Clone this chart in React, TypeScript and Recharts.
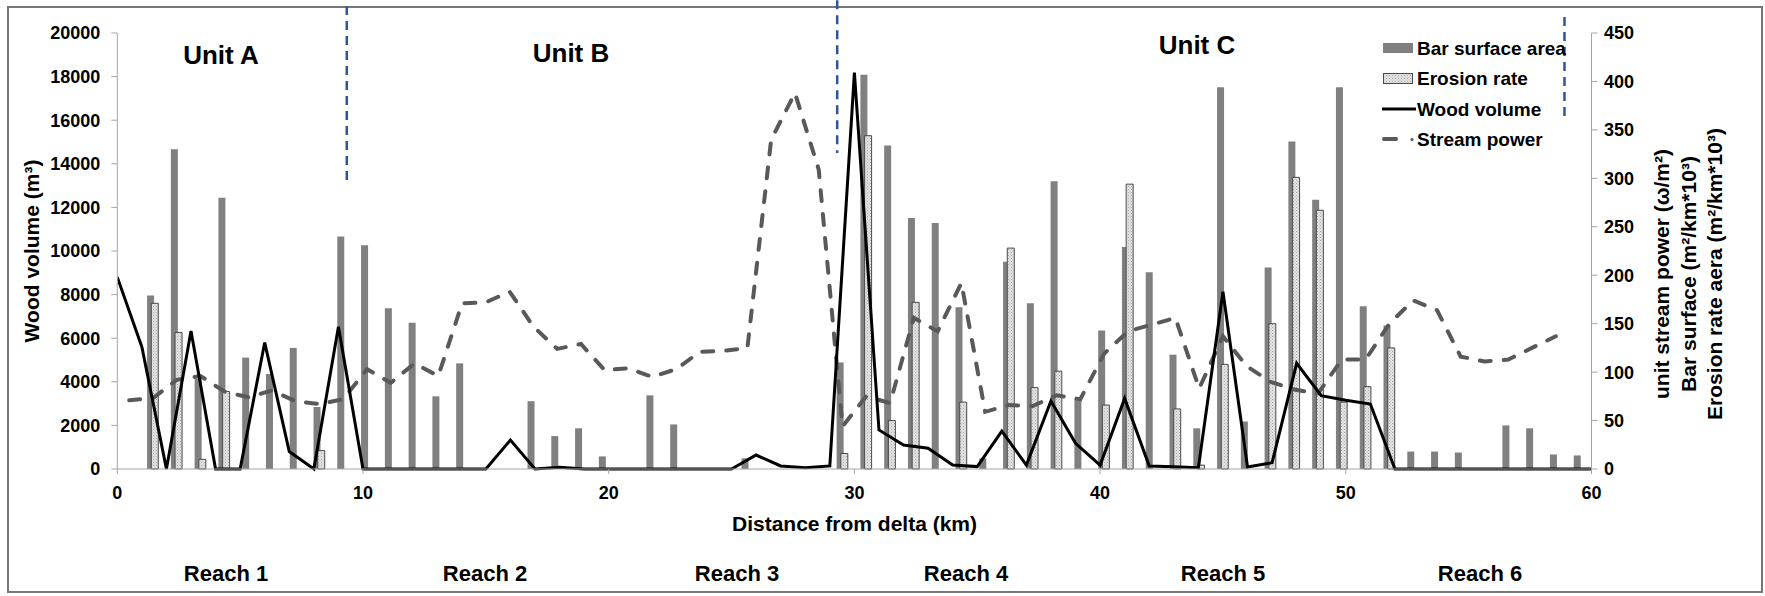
import React from "react";
import { ComposedChart, Bar, Line, XAxis, YAxis, ReferenceLine } from "recharts";

// bar segments along the river (Excel category axis, 62 slots over 0-60 km)
const segments = [
  1, 2, 3, 4, 5, 6, 7, 8, 9, 10, 11, 12, 13, 14, 15, 16, 17, 18, 19, 20, 21,
  22, 23, 24, 25, 26, 27, 28, 29, 30, 31, 32, 33, 34, 35, 36, 37, 38, 39, 40,
  41, 42, 43, 44, 45, 46, 47, 48, 49, 50, 51, 52, 53, 54, 55, 56, 57, 58, 59,
  60, 61, 62,
];

// bar surface (m2/km*10^3), right axis
const barSurface = [
  null, 179, 330, 93, 280, 115, 98, 125, 64, 240,
  231, 166, 151, 75, 109, null, null, 70, 34, 42,
  13, null, 76, 46, null, null, 11, null, null, null,
  110, 407, 334, 259, 254, 167, 11, 214, 171, 297,
  72, 143, 229, 203, 118, 42, 394, 49, 208, 338,
  278, 394, 168, 148, 18, 18, 17, null, 45, 42,
  15, 14,
];

// erosion rate (m2/km*10^3), right axis
const erosionRate = [
  null, 171, 141, 10, 80, null, null, null, 19, null,
  null, null, null, null, null, null, null, null, null, null,
  null, null, null, null, null, null, null, null, null, null,
  16, 344, 50, 172, null, 69, null, 228, 84, 101,
  null, 66, 294, null, 62, 4, 108, null, 150, 301,
  267, 69, 85, 125, null, null, null, null, null, null,
  null, null,
];

// unit stream power (w/m2), right axis
const streamPower = [
  71, 73, 92, 96, 80, 74, 81, 70, 67, 72,
  103, 89, 109, 96, 171, 172, 183, 147, 124, 129,
  102, 104, 95, 103, 121, 122, 125, 340, 388, 309,
  44, 75, 68, 156, 142, 192, 59, 66, 65, 76,
  72, 119, 142, 149, 156, 83, 137, 106, 90, 82,
  78, 113, 113, 150, 174, 164, 116, 111, 113, 125,
  137, null,
];

// wood volume (m3) every km, left axis
const distanceKm = [
  0, 1, 2, 3, 4, 5, 6, 7, 8, 9, 10, 11, 12, 13, 14, 15, 16, 17, 18, 19, 20,
  21, 22, 23, 24, 25, 26, 27, 28, 29, 30, 31, 32, 33, 34, 35, 36, 37, 38, 39,
  40, 41, 42, 43, 44, 45, 46, 47, 48, 49, 50, 51, 52, 53, 54, 55, 56, 57, 58,
  59, 60,
];
const woodVolume = [
  8800, 5600, 0, 6330, 0, 0, 5800, 800, 0, 6530,
  0, 0, 0, 0, 0, 0, 1330, 0, 80, 0,
  0, 0, 0, 0, 0, 0, 640, 140, 60, 140,
  18180, 1790, 1100, 950, 180, 110, 1740, 180, 3120, 1180,
  180, 3240, 140, 100, 60, 8130, 90, 290, 4850, 3360,
  3150, 2980, 0, 0, 0, 0, 0, 0, 0, 0,
  0,
];

const kmTicks = [0, 10, 20, 30, 40, 50, 60];
const woodTicks = [0, 2000, 4000, 6000, 8000, 10000, 12000, 14000, 16000, 18000, 20000];
const powerTicks = [0, 50, 100, 150, 200, 250, 300, 350, 400, 450];

// unit boundaries: km, top and bottom of the dashed marker (left-axis units)
const unitBreaks = [
  { km: 9.34, top: 21240, bottom: 13120 },
  { km: 29.3, top: 21500, bottom: 14500 },
  { km: 58.9, top: 20730, bottom: 15920 },
];

const units = [
  { label: "Unit A", x: 221, y: 55 },
  { label: "Unit B", x: 571, y: 53 },
  { label: "Unit C", x: 1197, y: 45 },
];
const reaches = [
  { label: "Reach 1", x: 226 },
  { label: "Reach 2", x: 485 },
  { label: "Reach 3", x: 737 },
  { label: "Reach 4", x: 966 },
  { label: "Reach 5", x: 1223 },
  { label: "Reach 6", x: 1480 },
];

const segData = segments.map((seg, i) => ({
  seg,
  bar: barSurface[i],
  erosion: erosionRate[i],
  power: streamPower[i],
}));
const woodData = distanceKm.map((km, i) => ({ km, wood: woodVolume[i] }));

const FONT = "'Liberation Sans', Arial, sans-serif";
const axisGray = "#a6a6a6";
const tickStyle = { fill: "#000", fontSize: 18, fontWeight: 700 };

export default function App() {
  return (
    <div style={{ position: "relative", width: 1765, height: 596, fontFamily: FONT, background: "#fff" }}>
      <style>{"body{margin:0}"}</style>
      <div
        style={{
          position: "absolute", left: 7, top: 6, width: 1756, height: 587,
          border: "2px solid #777", boxSizing: "border-box",
        }}
      />
      <ComposedChart
        width={1765}
        height={596}
        data={segData}
        barGap={-2.8}
        margin={{ top: 33, right: 113.5, bottom: 97, left: 37.3 }}
        style={{ position: "absolute", left: 0, top: 0, fontFamily: FONT }}
      >
        {/* hidden category axis for the bars and stream power, takes no room */}
        <XAxis xAxisId="cat" dataKey="seg" type="category" hide height={0} />
        <XAxis
          xAxisId="km"
          dataKey="km"
          type="number"
          domain={[0, 60]}
          ticks={kmTicks}
          allowDataOverflow
          height={30}
          tickSize={5}
          tickMargin={12}
          axisLine={{ stroke: axisGray }}
          tickLine={{ stroke: axisGray }}
          tick={tickStyle}
        />
        <YAxis
          yAxisId="left"
          domain={[0, 20000]}
          ticks={woodTicks}
          interval={0}
          width={80}
          tickSize={6}
          tickMargin={11}
          axisLine={{ stroke: axisGray }}
          tickLine={{ stroke: axisGray }}
          tick={tickStyle}
        />
        <YAxis
          yAxisId="right"
          orientation="right"
          domain={[0, 450]}
          ticks={powerTicks}
          interval={0}
          width={60}
          tickSize={6}
          tickMargin={6.5}
          axisLine={{ stroke: axisGray }}
          tickLine={{ stroke: axisGray }}
          tick={tickStyle}
        />
        <Bar xAxisId="cat" yAxisId="right" dataKey="bar" fill="#808080" barSize={7} isAnimationActive={false} />
        <Bar
          xAxisId="cat"
          yAxisId="right"
          dataKey="erosion"
          fill="url(#erosionDots)"
          stroke="#4a4a4a"
          strokeWidth={1}
          barSize={7}
          isAnimationActive={false}
        />
        <Line
          xAxisId="cat"
          yAxisId="right"
          dataKey="power"
          type="linear"
          stroke="#595959"
          strokeWidth={4}
          strokeDasharray="11 13"
          strokeLinecap="round"
          dot={false}
          isAnimationActive={false}
        />
        <Line
          xAxisId="km"
          yAxisId="left"
          data={woodData}
          dataKey="wood"
          type="linear"
          stroke="#000"
          strokeWidth={3}
          dot={false}
          isAnimationActive={false}
        />
        {unitBreaks.map((b) => (
          <ReferenceLine
            key={b.km}
            xAxisId="km"
            yAxisId="left"
            segment={[{ x: b.km, y: b.top }, { x: b.km, y: b.bottom }]}
            stroke="#2f5597"
            strokeWidth={2.5}
            strokeDasharray="9 6"
            ifOverflow="visible"
          />
        ))}
      </ComposedChart>

      <svg
        width={1765}
        height={596}
        style={{ position: "absolute", left: 0, top: 0, pointerEvents: "none" }}
        fontFamily={FONT}
        fontWeight={700}
      >
        <defs>
          <pattern id="erosionDots" width={3} height={3} patternUnits="userSpaceOnUse">
            <rect width={3} height={3} fill="#e3e3e3" />
            <rect width={1} height={1} fill="#a8a8a8" />
            <rect x={1.5} y={1.5} width={1} height={1} fill="#bdbdbd" />
          </pattern>
        </defs>

        {units.map((u) => (
          <text key={u.label} x={u.x} y={u.y} fontSize={26} textAnchor="middle" dominantBaseline="central">
            {u.label}
          </text>
        ))}

        <text x={854.5} y={523} fontSize={21} textAnchor="middle" dominantBaseline="central">
          Distance from delta (km)
        </text>
        {reaches.map((r) => (
          <text key={r.label} x={r.x} y={573} fontSize={22} textAnchor="middle" dominantBaseline="central">
            {r.label}
          </text>
        ))}

        <text
          transform="translate(31 251) rotate(-90)"
          fontSize={21}
          textAnchor="middle"
          dominantBaseline="central"
        >
          Wood volume (m³)
        </text>
        <g fontSize={21} textAnchor="middle" dominantBaseline="central">
          <text transform="translate(1661 274) rotate(-90)">unit stream power (ω/m²)</text>
          <text transform="translate(1688 274) rotate(-90)">Bar surface (m²/km*10³)</text>
          <text transform="translate(1714 274) rotate(-90)">Erosion rate aera (m²/km*10³)</text>
        </g>

        {/* legend */}
        <g fontSize={19} dominantBaseline="central">
          <rect x={1383} y={43} width={30} height={10} fill="#808080" />
          <text x={1417} y={48}>Bar surface area</text>
          <rect x={1383.5} y={73.5} width={29} height={10} fill="url(#erosionDots)" stroke="#4a4a4a" />
          <text x={1417} y={78}>Erosion rate</text>
          <line x1={1382} x2={1416} y1={109} y2={109} stroke="#000" strokeWidth={3} />
          <text x={1417} y={109}>Wood volume</text>
          <line x1={1384} x2={1396} y1={139} y2={139} stroke="#595959" strokeWidth={4} strokeLinecap="round" />
          <circle cx={1412} cy={139.5} r={1.6} fill="#595959" />
          <text x={1417} y={139}>Stream power</text>
        </g>
      </svg>
    </div>
  );
}
